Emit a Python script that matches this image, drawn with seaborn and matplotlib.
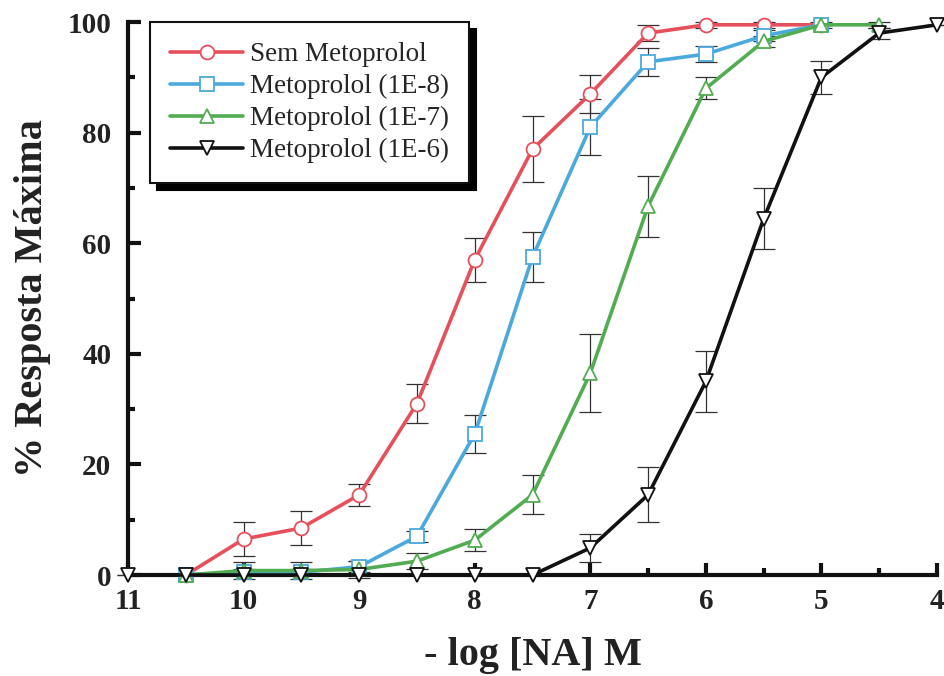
import numpy as np
import pandas as pd
import matplotlib
matplotlib.use("Agg")
import matplotlib.pyplot as plt
import seaborn as sns
from matplotlib.ticker import MultipleLocator

sns.set_style("ticks")
plt.rcParams['font.family'] = ['Liberation Serif', 'DejaVu Serif']

# Data (-log [NA] M vs % of max response)
x_sem = [10.5, 10, 9.5, 9, 8.5, 8, 7.5, 7, 6.5, 6, 5.5, 5]
y_sem = [0, 6.5, 8.5, 14.5, 31, 57, 77, 87, 98, 99.5, 99.5, 99.5]
e_sem = [0, 3, 3, 2, 3.5, 4, 6, 3.5, 1.5, 0.5, 0.5, 0]

x_m8 = [10.5, 10, 9.5, 9, 8.5, 8, 7.5, 7, 6.5, 6, 5.5, 5]
y_m8 = [0, 0.5, 0.5, 1.5, 7, 25.5, 57.5, 81, 92.8, 94.2, 97.5, 99.5]
e_m8 = [0, 0.5, 0.5, 1, 1, 3.5, 4.5, 5, 2.5, 1.5, 1, 0]

x_m7 = [10.5, 10, 9.5, 9, 8.5, 8, 7.5, 7, 6.5, 6, 5.5, 5, 4.5]
y_m7 = [0, 0.8, 0.8, 1, 2.5, 6.3, 14.5, 36.5, 66.7, 88, 96.5, 99.5, 99.5]
e_m7 = [0, 1.5, 1.5, 1.5, 1.5, 2, 3.5, 7, 5.5, 2, 1, 0.5, 0.5]

x_m6 = [11, 10.5, 10, 9.5, 9, 8.5, 8, 7.5, 7, 6.5, 6, 5.5, 5, 4.5, 4]
y_m6 = [0, 0, 0, 0, 0, 0, 0, 0, 4.9, 14.5, 35, 64.4, 90, 98, 99.5]
e_m6 = [0, 0, 0, 0, 0, 0, 0, 0, 2.5, 5, 5.5, 5.5, 3, 1, 0]

labels = ['Sem Metoprolol', 'Metoprolol (1E-8)', 'Metoprolol (1E-7)', 'Metoprolol (1E-6)']
colors = ['#e6505c', '#4ba9de', '#52ad52', '#111111']
markers = ['o', 's', '^', 'v']

series = [(x_sem, y_sem, e_sem), (x_m8, y_m8, e_m8), (x_m7, y_m7, e_m7), (x_m6, y_m6, e_m6)]

fig = plt.figure(figsize=(9.45, 6.76), dpi=100)
ax = fig.add_axes([0.1355, 0.1494, 0.856, 0.818])

handles = []
for (xs, ys, es), lab, col, mk in zip(series, labels, colors, markers):
    ax.errorbar(xs, ys, yerr=es, fmt='none', ecolor='#333333', elinewidth=0.9,
                capsize=8, capthick=0.9, zorder=2, clip_on=False)
    sns.lineplot(x=xs, y=ys, ax=ax, color=col, marker=mk, label=lab, legend=False,
                 linewidth=2.6, markersize=10, zorder=3, clip_on=False)
    line = ax.lines[-1]
    line.set_markerfacecolor('white')
    line.set_markeredgecolor(col)
    line.set_markeredgewidth(1.3)
    handles.append(line)

ax.set_xlim(11, 4)
ax.set_ylim(0, 100)
ax.xaxis.set_major_locator(MultipleLocator(1))
ax.xaxis.set_minor_locator(MultipleLocator(0.5))
ax.yaxis.set_major_locator(MultipleLocator(20))
ax.yaxis.set_minor_locator(MultipleLocator(10))

sns.despine(ax=ax)
for sp in ['left', 'bottom']:
    ax.spines[sp].set_linewidth(3)
    ax.spines[sp].set_color('#111111')

ax.tick_params(which='major', direction='in', length=9, width=3, color='#111111')
ax.tick_params(which='minor', direction='in', length=5, width=3, color='#111111')
ax.tick_params(axis='y', which='major', pad=12)
ax.tick_params(axis='x', which='major', pad=9)
for lbl in ax.get_xticklabels() + ax.get_yticklabels():
    lbl.set_fontsize(21)
    lbl.set_fontweight('bold')
    lbl.set_color('#222222')

ax.set_xlabel("- log [NA] M", fontsize=29, fontweight='bold', color='#222222', labelpad=16)
ax.set_ylabel("% Resposta Máxima", fontsize=29, fontweight='bold', color='#222222', labelpad=12)

leg = ax.legend(handles=handles, labels=labels, loc='upper left', bbox_to_anchor=(0.027, 1.0),
                borderaxespad=0, fontsize=19.5, handlelength=2.7, handletextpad=0.25,
                labelspacing=0.25, borderpad=0.75, fancybox=False, frameon=True,
                shadow={'ox': 5, 'oy': -5, 'shade': 1.0, 'alpha': 1.0})
leg.get_frame().set_edgecolor('#111111')
leg.get_frame().set_linewidth(1.5)
leg.get_frame().set_facecolor('white')
leg.get_frame().set_alpha(1.0)

plt.savefig("out.png", dpi=100)
